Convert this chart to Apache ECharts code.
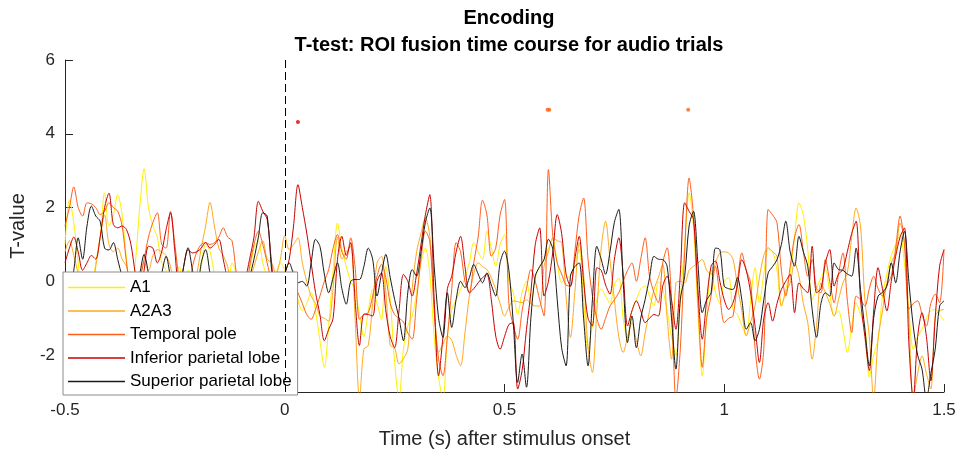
<!DOCTYPE html>
<html><head><meta charset="utf-8">
<script src="https://cdn.jsdelivr.net/npm/echarts@6/dist/echarts.min.js"></script>
<style>html,body{margin:0;padding:0;background:#fff}#c{width:962px;height:454px}</style>
</head><body><div id="c"></div>
<script>
// sampling of the time courses (seconds)
const tStart = -0.5, tStep = 0.01;
const seriesNames = ['A1', 'A2A3', 'Temporal pole', 'Inferior parietal lobe', 'Superior parietal lobe'];
const xTicks = [-0.5, 0, 0.5, 1, 1.5];
const yTicks = [-2, 0, 2, 4, 6];

const a1 = [
 1.0, 2.2, 1.6, 0.5, -0.5, 0.2, -0.3, 0.5, 1.2, 2.4,
 1.5, 1.8, 2.35, 1.8, 0.6, -0.3, 0.5, 2.0, 3.05, 2.0,
 1.5, 1.2, 0.5, 0.3, -0.4, 0.0, 0.4, -0.2, 0.3, 0.0,
 -0.5, 0.4, 1.0, 0.8, 0.2, -0.5, 0.0, -0.3, 0.5, 0.2,
 -0.6, 0.0, 0.3, 0.9, 1.1, 0.5, 0.1, -0.2, 0.2, 0.5,
 0.3, -0.1, 0.3, -0.5, -0.8, -0.6, -0.3, -0.8, -1.6, -2.33,
 -1.2, 0.3, 1.58, 0.9, 0.4, 0.0, -0.22, -0.9, -1.5, -0.8,
 -0.22, -0.6, -1.03, 0.41, -0.5, -2.2, -3.2, -1.84, -1.2, -0.94,
 -0.3, 0.5, 0.9, 0.2, -1.5, -2.6, -3.2, -1.5, -0.76, -0.5,
 -0.22, 0.1, 0.5, 1.05, 0.8, 0.59, 1.36, 0.9, 0.41, 1.0,
 1.27, 0.0, -0.3, -0.9, -0.3, 0.0, -0.6, 0.1, 0.4, 0.6,
 0.9, 1.14, 0.5, -0.04, 0.1, 0.14, 0.5, 0.86, -0.5, -1.84,
 -1.2, -0.5, -0.2, -0.4, -0.6, -0.1, 0.1, -1.0, -1.57, -0.8,
 -0.5, -0.2, -0.13, -0.4, -0.67, 0.0, -0.22, -0.8, -1.5, -2.0,
 -0.5, 1.0, 2.4, 1.5, -0.8, -2.56, -1.0, 0.32, -0.3, -0.6,
 0.0, 0.1, -0.76, -0.9, -1.2, -1.48, -0.5, 0.37, -0.58, 0.2,
 0.86, 0.8, 0.3, -0.67, -0.2, 0.23, 1.2, 2.13, 1.8, 0.86,
 -0.49, -0.2, 0.1, 0.32, -0.3, -0.94, -0.8, -1.3, -1.93, -1.2,
 -0.58, -0.9, -1.2, -2.6, -2.0, -1.57, -0.4, 0.2, 0.7, 1.0,
 1.27, 0.5, -0.8, -1.84, -1.5, -1.3, -1.0, -0.8, -0.76, -0.9,
 -1.07
];
const a2a3 = [
 0.8, 1.1, 0.7, 0.2, -0.4, -0.8, -0.3, 0.4, 1.2, 1.8,
 1.0, 0.8, 0.9, 0.6, 0.4, -0.2, -0.6, 0.0, 0.5, 0.3,
 0.7, 0.86, 0.8, 0.7, 0.4, -0.2, -0.5, -0.1, 0.2, -0.3,
 0.2, 0.9, 1.5, 2.14, 1.5, 0.9, 0.7, 0.4, -0.2, -0.6,
 -0.9, -0.5, 0.0, 0.4, 0.8, 1.1, 0.6, 0.5, 0.2, 0.6,
 1.24, 0.86, 1.0, 1.18, 0.5, 0.0, -0.4, -0.6, -0.94, -1.0,
 -1.08, -0.2, 1.2, 0.6, 0.8, 0.95, -1.0, -3.2, -1.84, -1.74,
 -0.6, 0.5, 0.68, -0.3, -1.74, -1.8, -2.24, -2.1, -1.84, -0.2,
 0.8, 1.3, 1.72, 1.22, -0.6, -1.93, -1.7, -1.48, -1.6, -2.0,
 -2.29, -1.4, -0.4, 0.2, 0.5, 0.4, 0.32, 0.1, -0.22, -0.6,
 -0.94, -0.7, -0.53, -0.55, -0.58, -0.5, -0.6, -0.67, -0.67, 0.41,
 0.8, 1.18, 1.1, 1.05, -0.4, -1.52, -0.3, 1.05, 0.2, -1.8,
 -2.47, -0.8, 0.9, 1.63, 0.59, -0.5, -1.5, -1.93, -1.5, -1.12,
 -1.6, -2.02, -1.4, -0.8, -0.22, 0.1, 0.46, -1.0, -2.11, -0.04,
 0.0, -0.04, 0.3, 0.41, 0.5, 0.59, 0.3, 0.19, 0.5, 0.77,
 0.8, 0.77, 0.6, -0.13, -0.8, -1.48, -1.1, -0.67, 0.1, 0.7,
 0.91, 0.8, 0.68, -0.67, -0.3, -0.04, 0.5, 0.14, -0.6, -1.12,
 -2.11, -1.2, -0.04, -0.3, -0.6, -0.94, -0.5, -0.04, 0.23, 1.2,
 1.99, 1.5, -0.5, -1.48, -3.2, -1.57, -0.8, -0.04, 0.5, 0.77,
 1.58, 1.05, -1.0, -3.2, -2.5, -2.02, -2.5, -2.92, -0.94, -0.8,
 -0.76
];
const temporalPole = [
 1.5, 2.0, 2.56, 2.0, 1.77, 2.13, 2.1, 2.0, 1.81, 1.9,
 2.13, 2.0, 1.9, 1.5, 0.5, -0.3, -0.5, 0.0, 0.6, 1.2,
 1.6, 1.86, 1.0, 0.9, 1.9, 1.0, 0.0, -0.6, -0.3, 0.4,
 0.8, 1.0, 1.05, 1.0, 1.05, 1.2, 1.45, 1.2, 1.1, 0.2,
 -0.4, -0.3, 0.4, 1.0, 1.36, 1.0, 0.5, 0.0, -0.3, 0.0,
 0.2, 0.1, -0.1, -0.31, -0.6, -0.9, -1.03, -0.76, -0.4, 0.0,
 0.32, 0.9, 1.27, 0.8, 0.6, 1.18, 0.4, -1.03, -0.9, -0.85,
 -0.4, 0.14, 0.46, 0.1, -0.6, -0.9, -1.0, -1.1, -1.4, -1.57,
 -0.5, 0.6, 1.36, 1.09, -0.8, -2.11, -2.56, -1.5, -0.2, 1.05,
 0.8, 0.0, -0.31, 0.5, 1.2, 2.2, 1.8, 0.68, 0.9, 1.8,
 2.22, -0.6, -1.2, -1.57, -0.8, -0.2, 0.32, 0.0, -0.5, -0.94,
 3.03, 1.22, 0.5, 0.2, -0.1, -0.13, 0.8, 1.8, 2.26, 0.6,
 -0.4, -1.0, -1.3, -1.0, -0.67, -0.5, -0.31, 0.0, 0.3, 0.5,
 0.0, 0.6, 1.18, 0.14, -0.3, -0.58, 0.5, 0.91, -0.5, -3.2,
 -1.84, 0.8, 2.8, 1.77, -0.5, -2.33, -1.0, -0.4, 0.41, -0.4,
 -1.12, -1.0, -0.94, 0.0, 0.77, 0.3, -0.04, -1.8, -2.65, -1.84,
 1.95, 1.8, 1.59, 0.3, -0.4, 0.4, 1.2, 1.54, 0.8, 0.14,
 0.59, -0.2, -0.31, 0.59, 0.0, -0.58, 0.2, 0.77, -0.5, -1.39,
 -0.4, -0.5, -0.67, -0.2, 0.14, -0.2, -0.4, -0.1, 0.14, 0.9,
 1.77, 1.0, -0.76, -0.6, -0.53, -0.9, -1.21, -0.6, -0.35, -0.58,
 0.86
];
const inferiorParietal = [
 0.5, 0.9, 1.2, 0.8, 0.3, 0.5, 0.7, 0.6, 1.2, 2.0,
 2.39, 1.54, 1.45, 1.5, 1.4, 1.0, 0.2, -0.5, 0.3, 0.95,
 0.9, 0.5, 0.8, 1.4, 1.86, 0.8, -0.3, 0.4, 0.86, 0.77,
 0.8, 0.9, 1.05, 0.9, 1.0, 1.14, 0.6, 0.0, -0.8, -1.0,
 -0.5, 0.0, 0.6, 1.2, 2.17, 1.9, 1.68, 0.5, -0.4, -0.2,
 0.2, 0.59, 1.5, 2.62, 2.0, 1.31, 0.5, -0.3, -0.9, -1.61,
 -1.3, -1.0, 0.6, 1.22, 0.7, 1.05, -0.5, -1.74, -0.89, -0.9,
 -0.94, 0.0, 0.23, -0.8, -1.5, -1.8, -0.8, 0.19, 0.0, -0.4,
 0.2, 1.0, 1.8, 2.35, -0.5, -2.56, -1.5, -0.2, 0.14, 0.8,
 1.22, 0.4, -0.31, -0.2, -0.04, 0.1, 0.19, -0.5, -1.48, -1.84,
 -1.5, -1.17, -1.12, -2.92, -2.42, -1.3, -0.3, 1.0, 1.45, -0.4,
 0.0, 0.8, 1.81, 1.3, 0.2, -0.13, 0.6, 1.22, 0.0, -1.0,
 -1.21, 0.37, 0.3, -0.1, -0.35, 0.6, 1.18, 0.2, -1.21, -0.8,
 -0.53, -0.8, -1.12, -1.0, -0.9, -0.94, -0.13, 0.14, -0.5, -1.3,
 0.2, 2.13, 1.9, 1.68, -0.2, -1.57, -0.5, 0.41, 0.55, 0.0,
 -0.5, -0.76, -0.58, -0.1, 0.59, 0.3, -0.31, -1.2, -2.2, -1.0,
 -0.58, -1.08, -0.6, -0.22, 0.0, 0.19, -0.85, -0.04, -0.2, -0.31,
 0.95, -0.31, -0.2, 0.5, 0.86, -0.13, 0.2, 0.32, 0.8, 1.3,
 1.63, -0.49, -1.5, -2.42, -0.8, 0.37, -0.2, -0.8, 0.0, 0.68,
 1.2, 1.45, -1.66, -3.2, -1.5, -0.85, -1.5, -2.7, -1.0, 0.41,
 0.86
];
const superiorParietal = [
 0.0, -0.3, 0.3, 1.18, 0.6, 1.5, 2.04, 1.77, 1.63, 0.9,
 0.85, 1.05, 0.59, 0.1, -0.5, -0.8, -0.3, 0.2, 0.73, 0.2,
 -0.6, -0.5, 0.2, 0.68, 0.1, -0.5, -0.3, 0.4, 0.91, 0.3,
 -0.3, 0.5, 0.86, 0.2, -0.4, -0.6, -0.3, 0.1, -0.2, -0.6,
 -0.8, -0.4, 0.1, 0.6, 1.2, 1.86, 1.77, 0.32, -0.5, -0.2,
 0.2, 0.5, 0.2, -0.04, 0.0, -0.13, 0.5, 1.14, 0.95, 0.2,
 -0.31, 0.1, 0.5, -0.2, -0.62, 0.0, 0.05, 0.05, 0.4, 0.9,
 0.6, -0.4, 0.2, 0.73, 0.1, -0.49, -1.0, -1.61, -0.3, 0.32,
 0.14, 0.8, 1.6, 1.99, 0.41, -1.0, -1.52, -0.31, -1.25, -0.49,
 0.0, -0.17, 0.1, 0.46, 0.2, -0.04, 0.23, -0.1, -0.4, 0.5,
 0.82, 0.3, -1.12, -2.74, -1.97, -2.87, -1.0, 0.14, 0.4, 0.59,
 1.14, 0.86, -0.5, -1.8, -2.29, 0.14, 0.4, 0.5, -1.0, -2.29,
 -0.5, 0.95, 0.6, 0.19, 0.8, 1.6, 1.95, 0.0, -1.66, -0.94,
 -1.8, -1.0, -0.49, 0.1, 0.68, 0.6, 0.59, 0.41, -1.0, -2.38,
 -0.5, 0.14, 1.5, 1.9, 0.5, -0.85, -0.5, -0.31, 0.9, 0.86,
 -0.13, -0.2, -0.22, 0.1, -0.5, -1.3, -1.12, -1.61, -1.3, -0.5,
 0.23, 0.4, 0.59, 1.0, 1.63, 0.8, 0.41, 1.22, 0.8, 0.41,
 -0.76, -1.52, -0.6, -0.31, -0.4, 0.5, 0.32, 0.3, 0.2, 0.14,
 0.9, -0.22, -1.3, -2.29, -1.0, -0.4, -0.3, -0.13, 0.5, -0.04,
 0.8, 1.36, 0.0, -1.21, -2.0, -2.38, -3.2, -2.5, -1.84, -0.67,
 -0.53
];
// significant time points (T-value level where they are marked)
const sigInferiorParietal = [[0.03, 4.32]];
const sigTemporalPole = [[0.598, 4.65], [0.602, 4.65], [0.918, 4.65]];

const colors = ['#FFF000', '#FFA91F', '#FF5F1A', '#C80000', '#1a1a1a'];
const FONT = '"Liberation Sans", Arial, Helvetica, sans-serif';

function pairs(v) { return v.map((y, i) => [+(tStart + i * tStep).toFixed(2), y]); }
const allData = [a1, a2a3, temporalPole, inferiorParietal, superiorParietal];

const series = allData.map((d, k) => ({
  name: seriesNames[k], type: 'line', data: pairs(d), symbol: 'none', smooth: 0.3,
  clip: true, animation: false,
  lineStyle: { width: 1, color: colors[k] }, itemStyle: { color: colors[k] }
}));
series[0].markLine = {
  silent: true, symbol: 'none', animation: false, label: { show: false },
  lineStyle: { type: [8, 4], color: '#000', width: 1 },
  data: [{ xAxis: 0 }]
};
series.push({ name: 'sigIPL', type: 'scatter', data: sigInferiorParietal, symbolSize: 4,
  itemStyle: { color: '#D00000' }, animation: false });
series.push({ name: 'sigTP', type: 'scatter', data: sigTemporalPole, symbolSize: 4,
  itemStyle: { color: '#FF5F1A' }, animation: false });

const axisCol = '#262626';
const chart = echarts.init(document.getElementById('c'), null, { renderer: 'canvas' });
chart.setOption({
  backgroundColor: '#fff',
  animation: false,
  title: {
    text: 'Encoding\nT-test: ROI fusion time course for audio trials',
    left: 504, top: 0, textAlign: 'center',
    textStyle: { fontFamily: FONT, fontSize: 20, fontWeight: 'bold', color: '#000', lineHeight: 27 }
  },
  grid: { left: 65, right: 18, top: 60, bottom: 61, containLabel: false },
  legend: {
    data: seriesNames, orient: 'vertical', left: 63, top: 272, icon: 'rect',
    itemWidth: 57, itemHeight: 1.5, itemGap: 6.5, padding: [7, 6, 5, 5],
    backgroundColor: '#fff', borderColor: '#8c8c8c', borderWidth: 1, borderRadius: 0,
    selectedMode: false,
    textStyle: { fontFamily: FONT, fontSize: 17, color: '#000', lineHeight: 17 }
  },
  xAxis: {
    type: 'value', min: -0.5, max: 1.5, interval: 0.5,
    name: 'Time (s) after stimulus onset', nameLocation: 'middle', nameGap: 37,
    nameTextStyle: { fontFamily: FONT, fontSize: 20, color: axisCol },
    axisLine: { show: true, onZero: false, lineStyle: { color: axisCol, width: 1 } },
    axisTick: { show: true, inside: true, length: 8, lineStyle: { color: axisCol } },
    axisLabel: { fontFamily: FONT, fontSize: 17, color: axisCol, margin: 10,
      formatter: v => String(v) },
    splitLine: { show: false }
  },
  yAxis: {
    type: 'value', min: -3, max: 6,
    name: 'T-value', nameLocation: 'middle', nameGap: 37,
    nameTextStyle: { fontFamily: FONT, fontSize: 20, color: axisCol },
    axisLine: { show: true, onZero: false, lineStyle: { color: axisCol, width: 1 } },
    axisTick: { show: true, inside: true, length: 8, customValues: yTicks, lineStyle: { color: axisCol } },
    axisLabel: { fontFamily: FONT, fontSize: 17, color: axisCol, margin: 10, customValues: yTicks },
    splitLine: { show: false }
  },
  series: series
});
</script>
</body></html>
